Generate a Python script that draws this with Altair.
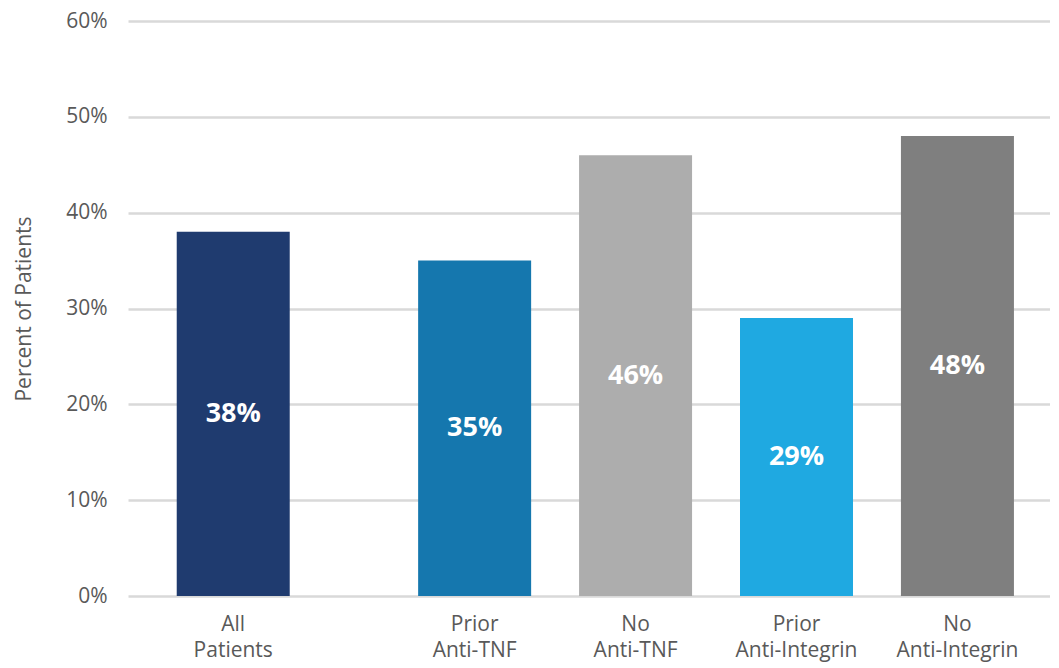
import altair as alt
import pandas as pd

categories = ["All|Patients", "Prior|Anti-TNF", "No|Anti-TNF", "Prior|Anti-Integrin", "No|Anti-Integrin"]
values = [38, 35, 46, 29, 48]
colors = ["#1f3b6f", "#1577ae", "#adadad", "#1fa9e1", "#7f7f7f"]
value_labels = ["38%", "35%", "46%", "29%", "48%"]
y_ticks = [0, 10, 20, 30, 40, 50, 60]

# band domain with blank spacer slots to reproduce the grouping gaps
domain = [categories[0], "_s1", "_s2", categories[1], "_s3", categories[2], "_s4",
          categories[3], "_s5", categories[4]]

df = pd.DataFrame({"cat": categories, "value": values, "label": value_labels})

FONT = "Open Sans"
GREY = "#595959"

x = alt.X(
    "cat:N",
    scale=alt.Scale(domain=domain, paddingInner=0, paddingOuter=0.729, align=0.554),
    axis=alt.Axis(
        title=None,
        labelExpr="indexof(datum.value, '_s') == 0 ? '' : split(datum.value, '|')",
        labelAngle=0,
        ticks=False,
        domain=False,
        labelPadding=17,
        labelFont=FONT,
        labelFontSize=21,
        labelColor=GREY,
        labelLineHeight=26,
    ),
)

bars = alt.Chart(df).mark_bar(size=113).encode(
    x=x,
    y=alt.Y(
        "value:Q",
        scale=alt.Scale(domain=[0, 60], nice=False),
        axis=alt.Axis(
            title="Percent of Patients",
            values=y_ticks,
            labelExpr="datum.value + '%'",
            ticks=False,
            domain=False,
            labelPadding=21,
            labelFont=FONT,
            labelFontSize=21,
            labelColor=GREY,
            titleFont=FONT,
            titleFontSize=21,
            titleFontWeight="normal",
            titleColor=GREY,
            titlePadding=31,
            gridColor="#d9d9d9",
            gridWidth=2.5,
        ),
    ),
    color=alt.Color("cat:N", scale=alt.Scale(domain=categories, range=colors), legend=None),
)

text = alt.Chart(df).transform_calculate(mid="datum.value / 2").mark_text(
    font=FONT, fontSize=27, fontWeight="bold", color="white", baseline="middle"
).encode(
    x=x,
    y=alt.Y("mid:Q", scale=alt.Scale(domain=[0, 60], nice=False)),
    text="label:N",
)

chart = (bars + text).properties(
    width=922, height=575,
    padding={"left": 5, "top": 2, "right": 0, "bottom": 5},
).configure_view(stroke=None)

chart.save("out.html", embed_options={"renderer": "svg", "actions": False})
